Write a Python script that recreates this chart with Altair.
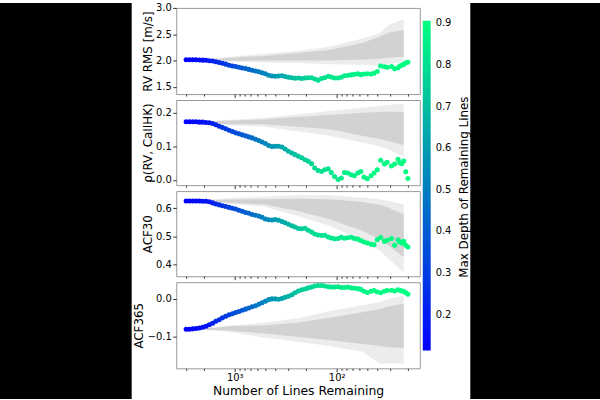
import altair as alt
import pandas as pd

FONT = "DejaVu Sans"

# Number of lines remaining (x) for every plotted point
n_lines = [2990, 2776, 2577, 2391, 2220, 2060, 1912, 1775, 1647, 1529,
           1419, 1317, 1223, 1135, 1053, 978, 908, 843, 782, 726,
           674, 625, 580, 539, 500, 464, 431, 400, 371, 344,
           320, 297, 275, 256, 237, 220, 204, 190, 176, 164,
           152, 141, 131, 121, 113, 105, 97, 90, 84, 78,
           72, 67, 62, 58, 54, 50, 46, 43, 40, 37,
           34, 32, 29, 27, 25, 24, 23, 22, 21, 20]

# Max depth of remaining lines (colour)
max_depth = [0.114, 0.12, 0.13, 0.14, 0.15, 0.16, 0.17, 0.19, 0.21, 0.23,
             0.25, 0.27, 0.29, 0.31, 0.33, 0.35, 0.37, 0.39, 0.41, 0.43,
             0.45, 0.47, 0.49, 0.51, 0.53, 0.55, 0.57, 0.59, 0.61, 0.63,
             0.65, 0.67, 0.69, 0.71, 0.73, 0.745, 0.76, 0.77, 0.78, 0.79,
             0.80, 0.81, 0.815, 0.82, 0.83, 0.835, 0.84, 0.845, 0.85, 0.855,
             0.86, 0.865, 0.87, 0.873, 0.876, 0.879, 0.882, 0.885, 0.888, 0.89,
             0.892, 0.894, 0.896, 0.898, 0.90, 0.901, 0.902, 0.903, 0.905, 0.906]

rv_rms = [2.015, 2.015, 2.013, 2.012, 2.010, 2.006, 2.002, 1.995, 1.99, 1.975,
          1.96, 1.945, 1.93, 1.91, 1.895, 1.885, 1.87, 1.855, 1.845, 1.83,
          1.815, 1.80, 1.785, 1.765, 1.745, 1.72, 1.705, 1.70, 1.705, 1.71,
          1.695, 1.68, 1.67, 1.66, 1.665, 1.655, 1.665, 1.67, 1.67, 1.645,
          1.625, 1.655, 1.67, 1.70, 1.685, 1.665, 1.665, 1.68, 1.71, 1.715,
          1.725, 1.735, 1.745, 1.73, 1.74, 1.745, 1.74, 1.755, 1.79, 1.895,
          1.88, 1.87, 1.885, 1.84, 1.86, 1.895, 1.91, 1.925, 1.955, 1.965]

rho_rv_caiihk = [0.173, 0.173, 0.173, 0.173, 0.172, 0.172, 0.171, 0.170, 0.168, 0.164,
                 0.160, 0.156, 0.152, 0.148, 0.144, 0.140, 0.137, 0.134, 0.131, 0.128,
                 0.125, 0.121, 0.117, 0.113, 0.108, 0.102, 0.099, 0.100, 0.100, 0.098,
                 0.092, 0.085, 0.080, 0.075, 0.070, 0.066, 0.060, 0.055, 0.048, 0.035,
                 0.028, 0.025, 0.030, 0.033, 0.022, 0.010, 0.001, 0.005, 0.022, 0.020,
                 0.015, 0.012, 0.020, 0.025, 0.008, 0.003, 0.012, 0.020, 0.030, 0.058,
                 0.047, 0.052, 0.041, 0.047, 0.061, 0.051, 0.048, 0.056, 0.024, 0.004]

acf30 = [0.626, 0.626, 0.626, 0.626, 0.626, 0.625, 0.625, 0.623, 0.619, 0.615,
         0.612, 0.609, 0.606, 0.603, 0.600, 0.597, 0.593, 0.589, 0.585, 0.582,
         0.578, 0.575, 0.572, 0.568, 0.562, 0.559, 0.558, 0.560, 0.557, 0.553,
         0.548, 0.543, 0.538, 0.533, 0.528, 0.527, 0.529, 0.522, 0.515, 0.508,
         0.505, 0.503, 0.504, 0.498, 0.494, 0.491, 0.492, 0.497, 0.493, 0.495,
         0.497, 0.492, 0.490, 0.485, 0.480, 0.476, 0.472, 0.470, 0.488, 0.496,
         0.482, 0.486, 0.492, 0.468, 0.487, 0.480, 0.476, 0.482, 0.468, 0.462]

acf365 = [-0.080, -0.080, -0.079, -0.078, -0.077, -0.075, -0.072, -0.068, -0.064, -0.059,
          -0.055, -0.050, -0.046, -0.042, -0.039, -0.036, -0.033, -0.030, -0.027, -0.024,
          -0.021, -0.018, -0.014, -0.010, -0.006, -0.002, 0.000, 0.000, -0.001, 0.001,
          0.004, 0.007, 0.011, 0.016, 0.021, 0.024, 0.026, 0.029, 0.031, 0.034,
          0.035, 0.035, 0.034, 0.032, 0.031, 0.031, 0.032, 0.030, 0.030, 0.031,
          0.029, 0.028, 0.027, 0.025, 0.020, 0.017, 0.020, 0.022, 0.018, 0.016,
          0.020, 0.022, 0.023, 0.021, 0.024, 0.023, 0.021, 0.020, 0.016, 0.012]

# Random-removal envelopes (outer = light band, inner = dark band)
band_n = [2990, 1590, 1095, 520, 246, 117, 56, 38, 31, 22]

rv_outer_lo = [2.015, 1.99, 1.975, 1.96, 1.95, 1.93, 1.92, 1.90, 1.93, 1.98]
rv_outer_hi = [2.015, 2.035, 2.07, 2.125, 2.18, 2.26, 2.42, 2.52, 2.67, 2.79]
rv_inner_lo = [2.015, 2.0, 1.995, 2.0, 2.0, 2.0, 2.02, 2.03, 2.05, 2.07]
rv_inner_hi = [2.015, 2.025, 2.05, 2.087, 2.14, 2.20, 2.33, 2.45, 2.53, 2.58]

rho_outer_lo = [0.173, 0.165, 0.163, 0.158, 0.145, 0.131, 0.111, 0.100, 0.090, 0.069]
rho_outer_hi = [0.173, 0.176, 0.178, 0.185, 0.195, 0.205, 0.215, 0.220, 0.224, 0.227]
rho_inner_lo = [0.173, 0.168, 0.166, 0.166, 0.158, 0.151, 0.131, 0.122, 0.115, 0.104]
rho_inner_hi = [0.173, 0.175, 0.177, 0.180, 0.187, 0.193, 0.200, 0.202, 0.203, 0.203]

a30_outer_lo = [0.626, 0.620, 0.615, 0.606, 0.573, 0.538, 0.485, 0.450, 0.420, 0.371]
a30_outer_hi = [0.626, 0.632, 0.636, 0.641, 0.646, 0.646, 0.638, 0.632, 0.626, 0.614]
a30_inner_lo = [0.626, 0.622, 0.619, 0.614, 0.591, 0.561, 0.520, 0.490, 0.467, 0.426]
a30_inner_hi = [0.626, 0.629, 0.631, 0.632, 0.634, 0.632, 0.622, 0.612, 0.602, 0.579]

a365_outer_lo = [-0.080, -0.083, -0.087, -0.102, -0.113, -0.124, -0.139, -0.170, -0.170, -0.170]
a365_outer_hi = [-0.080, -0.075, -0.070, -0.063, -0.052, -0.032, -0.017, -0.008, 0.000, 0.009]
a365_inner_lo = [-0.080, -0.082, -0.084, -0.091, -0.100, -0.109, -0.119, -0.124, -0.127, -0.130]
a365_inner_hi = [-0.080, -0.076, -0.072, -0.070, -0.063, -0.050, -0.035, -0.027, -0.020, -0.013]

x_tick_values = [3000, 2000, 1000, 900, 800, 700, 600, 500, 400, 300, 200,
                 100, 90, 80, 70, 60, 50, 40, 30, 20]
cbar_ticks = [0.2, 0.3, 0.4, 0.5, 0.6, 0.7, 0.8, 0.9]

x_scale = alt.Scale(type="log", domain=[15.3, 3740], reverse=True, nice=False)
color_scale = alt.Scale(domain=[0.114, 0.906], range=["#0000ff", "#00ff80"], interpolate="rgb")
color_legend = alt.Legend(orient="none", legendX=427, legendY=13, direction="vertical",
                          gradientLength=333, gradientThickness=8, title=None,
                          values=cbar_ticks, format=".1f", labelFontSize=10,
                          labelOffset=5, gradientStrokeWidth=0, padding=0,
                          labelOverlap=False, labelColor="black", labelFont=FONT)


def x_axis(bottom):
    return alt.Axis(
        values=x_tick_values,
        labelExpr="datum.value == 1000 ? '10³' : (datum.value == 100 ? '10²' : '')",
        tickSize={"condition": {"test": "datum.value == 1000 || datum.value == 100", "value": 3.5},
                  "value": 2},
        labels=bottom, labelOverlap=False, labelFlush=False,
        title="Number of Lines Remaining" if bottom else None,
        grid=False, domain=False, labelFontSize=10, labelPadding=1,
        titleFontSize=12.5, titlePadding=2, tickColor="#333",
    )


def panel(vals, title, domain, yticks, olo, ohi, ilo, ihi, h, bottom=False):
    band_df = pd.DataFrame({"n": band_n, "olo": olo, "ohi": ohi, "ilo": ilo, "ihi": ihi})
    pts_df = pd.DataFrame({"n": n_lines, "v": vals, "depth": max_depth})
    ys = alt.Scale(domain=domain, nice=False, zero=False)
    ya = alt.Axis(title=title, values=yticks, format=".1f", grid=False, domain=False,
                  labelFontSize=10, titleFontSize=12, tickSize=3.5, labelPadding=1.5,
                  titlePadding=1.5, tickColor="#333")
    xe = alt.X("n:Q", scale=x_scale, axis=x_axis(bottom))
    outer = alt.Chart(band_df).mark_area(color="#ececec").encode(
        x=xe, y=alt.Y("olo:Q", scale=ys, axis=ya), y2="ohi:Q")
    inner = alt.Chart(band_df).mark_area(color="#d2d2d2").encode(
        x=xe, y=alt.Y("ilo:Q", scale=ys, axis=ya), y2="ihi:Q")
    pts = alt.Chart(pts_df).mark_circle(size=26, opacity=1).encode(
        x=xe, y=alt.Y("v:Q", scale=ys, axis=ya),
        color=alt.Color("depth:Q", scale=color_scale, legend=color_legend))
    return alt.layer(outer, inner, pts).properties(
        width=246, height=h, view=alt.ViewBackground(stroke="#999", strokeWidth=1))


p1 = panel(rv_rms, "RV RMS [m/s]", [1.36, 3.0], [1.5, 2.0, 2.5, 3.0],
           rv_outer_lo, rv_outer_hi, rv_inner_lo, rv_inner_hi, 87)
p2 = panel(rho_rv_caiihk, "ρ(RV, CaIIHK)", [-0.016, 0.238], [0.0, 0.1, 0.2],
           rho_outer_lo, rho_outer_hi, rho_inner_lo, rho_inner_hi, 86)
p3 = panel(acf30, "ACF30", [0.358, 0.661], [0.4, 0.5, 0.6],
           a30_outer_lo, a30_outer_hi, a30_inner_lo, a30_inner_hi, 86)
p4 = panel(acf365, "ACF365", [-0.183, 0.044], [-0.1, 0.0],
           a365_outer_lo, a365_outer_hi, a365_inner_lo, a365_inner_hi, 87, bottom=True)

main = alt.vconcat(p1, p2, p3, p4, spacing=0)


def black(w):
    return alt.Chart(pd.DataFrame({"k": [0]})).mark_rect(color="black").encode(
        x=alt.value(0), x2=alt.value(w), y=alt.value(-5), y2=alt.value(395)
    ).properties(width=w, height=395, view=alt.ViewBackground(stroke=None))


gap = alt.Chart(pd.DataFrame({"v": [0.5]})).mark_point(opacity=0).encode(
    y=alt.Y("v:Q", axis=alt.Axis(orient="right", title="Max Depth of Remaining Lines",
                                 labels=False, ticks=False, domain=False, grid=False,
                                 titleAngle=270, titlePadding=17.5, titleFontSize=12))
).properties(width=33, height=361, view=alt.ViewBackground(stroke=None))

chart = alt.hconcat(black(133), main, gap, black(131), spacing=0).properties(
    padding=0, background="white"
).configure(font=FONT).configure_axis(
    labelFont=FONT, titleFont=FONT, labelColor="black", titleColor="black",
    titleFontWeight="normal"
)

chart.save("out.html", embed_options={"renderer": "svg", "actions": False})
